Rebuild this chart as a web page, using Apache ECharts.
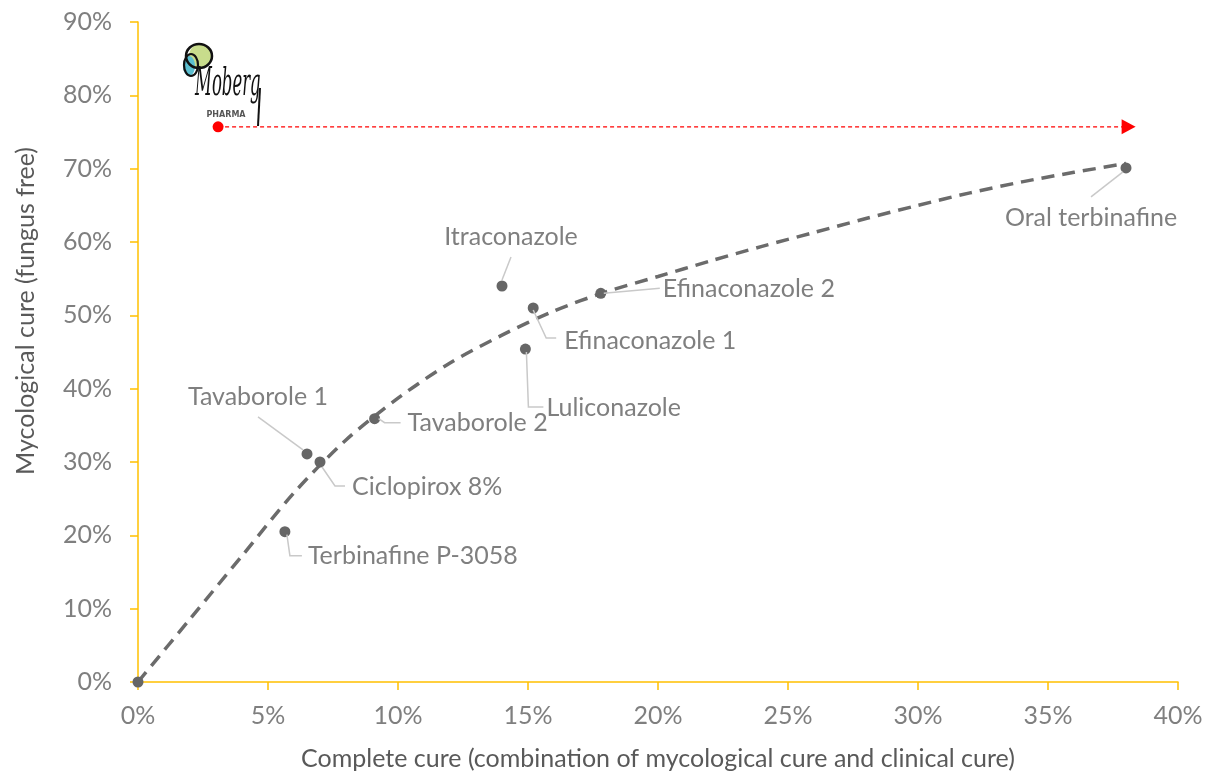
<!DOCTYPE html>
<html>
<head>
<meta charset="utf-8">
<script src="https://cdn.jsdelivr.net/npm/echarts@6/dist/echarts.min.js"></script>
<style>
html,body{margin:0;padding:0;background:#fff;overflow:hidden;}
#chart{width:1205px;height:775px;}
</style>
</head>
<body>
<div id="chart"></div>
<script>
// ---- Data ----
const treatments = ['Terbinafine P-3058','Tavaborole 1','Ciclopirox 8%','Tavaborole 2','Itraconazole','Efinaconazole 1','Luliconazole','Efinaconazole 2','Oral terbinafine'];
const completeCure = [5.65, 6.5, 7.0, 9.1, 14.0, 15.2, 14.9, 17.8, 38.0];
const mycologicalCure = [20.5, 31.1, 30.0, 35.9, 54.0, 51.0, 45.4, 53.0, 70.1];
const originPoint = [0, 0];
const trendX = [0, 2, 4, 6, 8, 10, 12, 14, 16, 18, 20, 22, 24, 26, 28, 30, 32, 34, 36, 38];
const trendY = [0, 8.6, 17.2, 25.8, 33.0, 38.7, 43.5, 47.3, 50.6, 53.2, 55.3, 57.4, 59.4, 61.3, 63.2, 65.0, 66.7, 68.2, 69.5, 70.7];
const mobergX = [3.08, 38.1];
const mobergY = [75.7, 75.7];
const xTicks = {min: 0, max: 40, interval: 5};
const yTicks = {min: 0, max: 90, interval: 10};

// ---- Label placement (pixel offsets, style only) ----
const labelStyle = {
  'Terbinafine P-3058': {line: [[2,3],[5,24],[17,24]], text: [23,24], align: 'left'},
  'Tavaborole 1': {line: [[-4,-4],[-49,-37]], text: [-49,-57], align: 'center'},
  'Ciclopirox 8%': {line: [[2,5],[15,24],[25,24]], text: [32,25], align: 'left'},
  'Tavaborole 2': {line: [[4,0],[10,4],[26,4]], text: [33,4], align: 'left'},
  'Itraconazole': {line: [[0,-6],[9,-29]], text: [9,-49], align: 'center'},
  'Efinaconazole 1': {line: [[0,2],[13,30],[23,30]], text: [31,33], align: 'left'},
  'Luliconazole': {line: [[1,3],[3,58],[18,58]], text: [21,59], align: 'left'},
  'Efinaconazole 2': {line: [[3,0],[59,-5]], text: [62,-4], align: 'left'},
  'Oral terbinafine': {line: [[-3,4],[-35,29]], text: [-35,50], align: 'center'}
};

const FONT = 'Lato, "Open Sans", sans-serif';
const pointData = treatments.map((n, i) => ({name: n, value: [completeCure[i], mycologicalCure[i]]}));
const trendData = trendX.map((x, i) => [x, trendY[i]]);

const chart = echarts.init(document.getElementById('chart'));
const axisLineStyle = {axisLine: {show: true, lineStyle: {color: '#FFC000', width: 1.5}},
  axisTick: {show: true, inside: false, length: 8, lineStyle: {color: '#FFC000', width: 1.5}},
  splitLine: {show: false}};
chart.setOption({
  animation: false,
  backgroundColor: '#ffffff',
  grid: {left: 138, right: 27, top: 22, bottom: 93, containLabel: false, outerBoundsMode: 'none'},
  xAxis: Object.assign({}, axisLineStyle, {
    type: 'value', min: xTicks.min, max: xTicks.max, interval: xTicks.interval,
    axisLabel: {color: '#7f7f7f', fontSize: 25, fontFamily: FONT, margin: 21, formatter: '{value}%'},
    name: 'Complete cure (combination of mycological cure and clinical cure)',
    nameLocation: 'middle', nameGap: 64,
    nameTextStyle: {color: '#595959', fontSize: 25, fontFamily: FONT}
  }),
  yAxis: Object.assign({}, axisLineStyle, {
    type: 'value', min: yTicks.min, max: yTicks.max, interval: yTicks.interval,
    axisLabel: {color: '#7f7f7f', fontSize: 25, fontFamily: FONT, margin: 26, formatter: '{value}%'},
    name: 'Mycological cure (fungus free)',
    nameLocation: 'middle', nameGap: 100,
    nameTextStyle: {color: '#595959', fontSize: 25, fontFamily: FONT, padding: [0, 0, 0, 82]}
  }),
  series: [
    {
      type: 'line', data: trendData, smooth: 0.3,
      showSymbol: false, symbol: 'none',
      lineStyle: {color: '#6b6b6b', width: 3.5, type: [13, 8]},
      z: 2, silent: true
    },
    {
      type: 'line',
      data: [
        {value: [mobergX[0], mobergY[0]], symbol: 'circle', symbolSize: 11},
        {value: [mobergX[1], mobergY[1]], symbol: 'triangle', symbolSize: [15, 14], symbolRotate: -90}
      ],
      showSymbol: true,
      itemStyle: {color: '#FF0000', opacity: 1},
      lineStyle: {color: '#FF0000', width: 1.3, type: [4, 3]},
      z: 3, silent: true
    },
    {
      type: 'scatter',
      data: [{name: 'origin', value: originPoint}].concat(pointData),
      symbolSize: 11,
      itemStyle: {color: '#666666', opacity: 1},
      z: 4
    },
    {
      type: 'custom',
      data: pointData,
      z: 5,
      renderItem: function (params, api) {
        const name = treatments[params.dataIndex];
        const cfg = labelStyle[name];
        const p = api.coord([api.value(0), api.value(1)]);
        const pts = cfg.line.map(d => [p[0] + d[0], p[1] + d[1]]);
        return {
          type: 'group',
          children: [
            {type: 'polyline', shape: {points: pts}, style: {stroke: '#c9c9c9', lineWidth: 1.5, fill: null}},
            {type: 'text', style: {x: p[0] + cfg.text[0], y: p[1] + cfg.text[1], text: name,
              align: cfg.align, verticalAlign: 'middle', fill: '#7f7f7f',
              font: '25px ' + FONT}}
          ]
        };
      }
    }
  ],
  graphic: [
    {type: 'ellipse', silent: true, shape: {cx: 200, cy: 56, rx: 11, ry: 12}, style: {fill: '#C8DC8C'}},
    {type: 'ellipse', silent: true, shape: {cx: 189, cy: 66, rx: 6, ry: 10}, style: {fill: '#5BBFD0'}},
    {type: 'ellipse', silent: true, shape: {cx: 199, cy: 56, rx: 13, ry: 12}, style: {fill: null, stroke: '#111', lineWidth: 2.5}},
    {type: 'ellipse', silent: true, shape: {cx: 191, cy: 65, rx: 7, ry: 11}, style: {fill: null, stroke: '#111', lineWidth: 2.2}},
    {type: 'text', silent: true, x: 195, y: 104, scaleX: 0.55, scaleY: 1.3,
      style: {x: 0, y: 0, text: 'Moberg', font: 'italic 30px "DejaVu Serif", serif', fill: '#111', verticalAlign: 'bottom'}},
    {type: 'line', silent: true, shape: {x1: 260, y1: 88, x2: 258, y2: 126}, style: {stroke: '#111', lineWidth: 2}},
    {type: 'text', silent: true, style: {x: 226, y: 115, text: 'PHARMA', font: 'bold 8px "DejaVu Sans", sans-serif', fill: '#555', align: 'center', verticalAlign: 'middle'}}
  ]
});
</script>
</body>
</html>
